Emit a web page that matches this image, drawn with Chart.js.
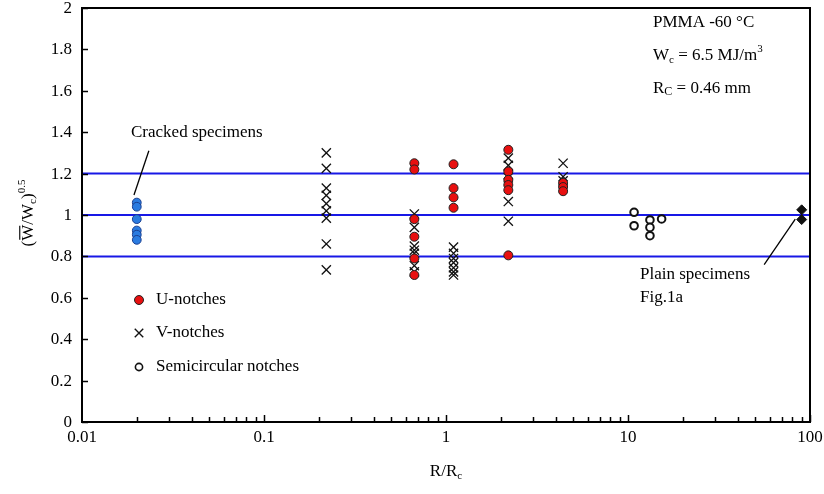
<!DOCTYPE html>
<html><head><meta charset="utf-8">
<script src="https://cdn.jsdelivr.net/npm/chart.js@4/dist/chart.umd.min.js"></script>
<style>html,body{margin:0;padding:0;background:#fff}canvas{display:block}</style>
</head><body>
<canvas id="c" width="824" height="494"></canvas>
<script>
// ---- data ----
const crackedX = [0.02, 0.02, 0.02, 0.02, 0.02, 0.02];
const crackedY = [1.06, 1.04, 0.98, 0.925, 0.905, 0.88];

const uNotchX = [0.67, 0.67, 0.67, 0.67, 0.67, 0.67, 1.1, 1.1, 1.1, 1.1, 2.2, 2.2, 2.2, 2.2, 2.2, 2.2, 4.4, 4.4, 4.4];
const uNotchY = [1.25, 1.22, 0.98, 0.895, 0.79, 0.71, 1.245, 1.13, 1.085, 1.035, 1.315, 1.21, 1.17, 1.145, 1.12, 0.805, 1.155, 1.135, 1.115];

const vNotchX = [0.22, 0.22, 0.22, 0.22, 0.22, 0.22, 0.22, 0.22, 0.22,
                 0.67, 0.67, 0.67, 0.67, 0.67, 0.67, 0.67,
                 1.1, 1.1, 1.1, 1.1, 1.1, 1.1, 1.1,
                 2.2, 2.2, 2.2, 2.2, 2.2, 2.2,
                 4.4, 4.4, 4.4];
const vNotchY = [1.30, 1.225, 1.13, 1.095, 1.055, 1.02, 0.985, 0.86, 0.735,
                 1.005, 0.94, 0.85, 0.83, 0.815, 0.755, 0.725,
                 0.845, 0.815, 0.79, 0.77, 0.745, 0.725, 0.71,
                 1.275, 1.24, 1.195, 1.18, 1.065, 0.97,
                 1.25, 1.185, 1.165];

const semiX = [10.8, 10.8, 13.2, 13.2, 13.2, 15.3];
const semiY = [1.013, 0.948, 0.976, 0.94, 0.90, 0.981];

const plainX = [90, 90];
const plainY = [1.025, 0.978];

const refLevels = [1.2, 1.0, 0.8];
const xRange = [0.01, 100];
const yRange = [0, 2];
const xTickLabels = [0.01, 0.1, 1, 10, 100];
const yTickStep = 0.2;

const legendLabels = ['U-notches', 'V-notches', 'Semicircular notches'];
// leader lines (data coordinates): [x0,y0,x1,y1]
const crackedLeader = [0.0233, 1.31, 0.0193, 1.097];
const plainLeader = [56, 0.76, 83, 0.98];

// ---- build ----
const zip = (xs, ys) => xs.map((x, i) => ({x: x, y: ys[i]}));
const SERIF = '"Liberation Serif", "Times New Roman", serif';
const BLUE_LINE = 'rgb(24,24,230)';

const datasets = [];
refLevels.forEach(v => {
  datasets.push({
    type: 'line', data: [{x: xRange[0], y: v}, {x: xRange[1], y: v}],
    borderColor: BLUE_LINE, borderWidth: 2, pointRadius: 0, order: 10, tension: 0
  });
});
datasets.push({label: 'Cracked', data: zip(crackedX, crackedY), pointStyle: 'circle', pointRadius: 4.4,
  backgroundColor: '#2a7be0', borderColor: '#1a3f90', pointBorderWidth: 1, order: 1});
datasets.push({label: 'V', data: zip(vNotchX, vNotchY), pointStyle: 'crossRot', pointRadius: 6.5,
  borderColor: '#111', backgroundColor: '#111', pointBorderWidth: 1.3, order: 2});
datasets.push({label: 'U', data: zip(uNotchX, uNotchY), pointStyle: 'circle', pointRadius: 4.5,
  backgroundColor: '#e81010', borderColor: '#222', pointBorderWidth: 1, order: 1});
datasets.push({label: 'Semi', data: zip(semiX, semiY), pointStyle: 'circle', pointRadius: 3.8,
  backgroundColor: '#fff', borderColor: '#111', pointBorderWidth: 2, order: 1});
datasets.push({label: 'Plain', data: zip(plainX, plainY), pointStyle: 'rectRot', pointRadius: 5,
  backgroundColor: '#111', borderColor: '#111', pointBorderWidth: 1, order: 1});

function drawSubText(ctx, parts, x, y, align) {
  let w = 0;
  parts.forEach(p => { ctx.font = p.size + 'px ' + SERIF; p.w = ctx.measureText(p.t).width; w += p.w; });
  let cx = align === 'center' ? x - w / 2 : x;
  parts.forEach(p => {
    ctx.font = p.size + 'px ' + SERIF;
    ctx.textAlign = 'left';
    ctx.textBaseline = 'alphabetic';
    ctx.fillText(p.t, cx, y + (p.dy || 0));
    if (p.over) {
      ctx.beginPath();
      ctx.lineWidth = 1.2;
      ctx.moveTo(cx + 1, y - p.size * 0.78);
      ctx.lineTo(cx + p.w - 1, y - p.size * 0.78);
      ctx.stroke();
    }
    cx += p.w;
  });
}

const extras = {
  id: 'extras',
  afterDatasetsDraw(chart) {
    const ctx = chart.ctx, xs = chart.scales.x, ys = chart.scales.y, a = chart.chartArea;
    ctx.save();
    ctx.strokeStyle = '#000'; ctx.fillStyle = '#000';
    ctx.lineWidth = 2;
    ctx.strokeRect(a.left, a.top, a.right - a.left, a.bottom - a.top);
    ctx.lineWidth = 1.5;
    ctx.font = '17px ' + SERIF;
    ys.ticks.forEach(t => {
      const py = Math.round(ys.getPixelForValue(t.value)) + 0.5;
      ctx.beginPath(); ctx.moveTo(a.left, py); ctx.lineTo(a.left + 6, py); ctx.stroke();
      ctx.textAlign = 'right'; ctx.textBaseline = 'middle';
      ctx.fillText(String(Math.round(t.value * 10) / 10), a.left - 10, py);
    });
    for (let d = xRange[0]; d < xRange[1] * 0.999; d *= 10) {
      for (let m = 2; m <= 10; m++) {
        const px = Math.round(xs.getPixelForValue(d * m)) + 0.5;
        const len = (m === 10) ? 7 : 5;
        ctx.beginPath(); ctx.moveTo(px, a.bottom); ctx.lineTo(px, a.bottom - len); ctx.stroke();
      }
    }
    xs.ticks.forEach(t => {
      const px = xs.getPixelForValue(t.value);
      ctx.textAlign = 'center'; ctx.textBaseline = 'middle';
      ctx.fillText(String(t.value), px, a.bottom + 16);
    });
    ctx.lineWidth = 1.3;
    [crackedLeader, plainLeader].forEach(l => {
      ctx.beginPath();
      ctx.moveTo(xs.getPixelForValue(l[0]), ys.getPixelForValue(l[1]));
      ctx.lineTo(xs.getPixelForValue(l[2]), ys.getPixelForValue(l[3]));
      ctx.stroke();
    });
    ctx.font = '17px ' + SERIF;
    ctx.textAlign = 'left'; ctx.textBaseline = 'middle';
    ctx.fillText('Cracked specimens', 131, 133);
    ctx.fillText('Plain specimens', 640, 275);
    ctx.fillText('Fig.1a', 640, 298);
    drawSubText(ctx, [{t: 'PMMA -60 °C', size: 17}], 653, 27, 'left');
    drawSubText(ctx, [{t: 'W', size: 17}, {t: 'c', size: 11, dy: 3}, {t: ' = 6.5 MJ/m', size: 17}, {t: '3', size: 11, dy: -8}], 653, 60, 'left');
    drawSubText(ctx, [{t: 'R', size: 17}, {t: 'C', size: 12, dy: 2}, {t: ' = 0.46 mm', size: 17}], 653, 93, 'left');
    const H = Chart.helpers;
    const lx = 139;
    ctx.fillStyle = '#e81010'; ctx.strokeStyle = '#222'; ctx.lineWidth = 1;
    ctx.beginPath(); ctx.arc(lx, 300, 4.5, 0, Math.PI * 2); ctx.fill(); ctx.stroke();
    ctx.strokeStyle = '#111'; ctx.fillStyle = '#111'; ctx.lineWidth = 1.4;
    H.drawPoint(ctx, {pointStyle: 'crossRot', radius: 6, borderWidth: 1.4}, lx, 333);
    ctx.fillStyle = '#fff'; ctx.strokeStyle = '#111'; ctx.lineWidth = 1.6;
    ctx.beginPath(); ctx.arc(lx, 367, 3.6, 0, Math.PI * 2); ctx.fill(); ctx.stroke();
    ctx.fillStyle = '#000';
    ctx.font = '17px ' + SERIF; ctx.textBaseline = 'middle'; ctx.textAlign = 'left';
    ctx.fillText(legendLabels[0], 156, 300);
    ctx.fillText(legendLabels[1], 156, 333);
    ctx.fillText(legendLabels[2], 156, 367);
    drawSubText(ctx, [{t: 'R/R', size: 17}, {t: 'c', size: 11, dy: 3}], 446, 476, 'center');
    ctx.save();
    ctx.translate(33, 213);
    ctx.rotate(-Math.PI / 2);
    drawSubText(ctx, [{t: '(', size: 17}, {t: 'W', size: 17, over: true}, {t: '/W', size: 17}, {t: 'c', size: 11, dy: 3}, {t: ')', size: 17}, {t: '0.5', size: 11, dy: -8}], 0, 0, 'center');
    ctx.restore();
    ctx.restore();
  }
};

new Chart(document.getElementById('c'), {
  type: 'scatter',
  data: {datasets: datasets},
  options: {
    responsive: false, animation: false, devicePixelRatio: 1,
    layout: {padding: {left: 0, top: 8, right: 14, bottom: 0}},
    plugins: {legend: {display: false}, tooltip: {enabled: false}},
    scales: {
      x: {
        type: 'logarithmic', min: xRange[0], max: xRange[1],
        afterBuildTicks: s => { s.ticks = xTickLabels.map(v => ({value: v})); },
        afterFit: s => { s.height = 72; },
        grid: {display: false, drawTicks: false},
        border: {display: false},
        ticks: {display: false}
      },
      y: {
        min: yRange[0], max: yRange[1],
        afterFit: s => { s.width = 82; },
        grid: {display: false, drawTicks: false},
        border: {display: false},
        ticks: {display: false, stepSize: yTickStep}
      }
    }
  },
  plugins: [extras]
});
</script>
</body></html>
